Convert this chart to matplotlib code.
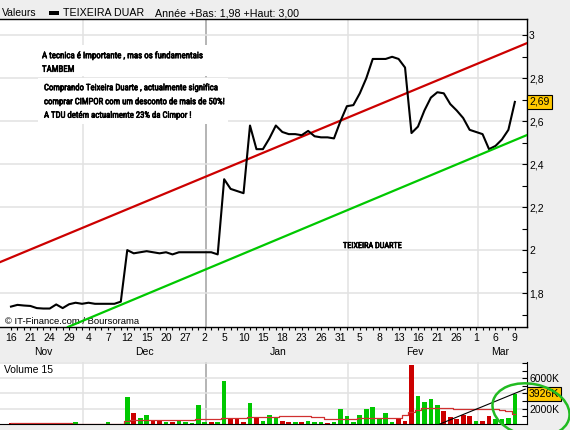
import matplotlib
matplotlib.use("Agg")
import matplotlib.pyplot as plt
from matplotlib.patches import Ellipse, Rectangle
import matplotlib.transforms as mtransforms
import matplotlib.patheffects as pe
from matplotlib import font_manager

plt.rcParams['font.family'] = ['Liberation Sans', 'DejaVu Sans']

# ---------------- data ----------------
price = [1.737, 1.745, 1.742, 1.740, 1.730, 1.728, 1.728, 1.747, 1.730, 1.748,
         1.755, 1.750, 1.755, 1.750, 1.750, 1.750, 1.750, 1.760, 2.000, 1.985,
         1.990, 1.995, 1.990, 1.985, 1.990, 1.980, 1.990, 1.990, 1.990, 1.990,
         1.990, 1.990, 1.980, 2.330, 2.285, 2.275, 2.265, 2.580, 2.470, 2.470,
         2.520, 2.580, 2.550, 2.540, 2.540, 2.535, 2.555, 2.530, 2.525, 2.525,
         2.520, 2.600, 2.670, 2.675, 2.730, 2.800, 2.890, 2.890, 2.890, 2.900,
         2.890, 2.850, 2.545, 2.575, 2.650, 2.710, 2.735, 2.730, 2.680, 2.650,
         2.615, 2.560, 2.550, 2.540, 2.470, 2.485, 2.515, 2.560, 2.690]

volume = [150, 150, 150, 150, 150, 150, 150, 150, 150, 150,
          220, 0, 0, 0, 0, 200, 0, 0, 3550, 1420,
          770, 1130, 550, 330, 200, 240, 330, 200, 110, 2440,
          200, 200, 200, 5640, 820, 600, 240, 2710, 730, 330,
          1130, 730, 330, 240, 200, 200, 330, 200, 200, 80,
          240, 1930, 1000, 240, 1130, 1930, 2200, 680, 1400, 240,
          820, 330, 7770, 3640, 2840, 3240, 2440, 1660, 860, 680,
          1130, 1000, 420, 330, 1000, 680, 600, 770, 3926]

# direction flags (g = green, r = red)
vol_dir = ["r", "g", "r", "g", "r", "g", "g", "g", "r", "g",
           "g", "g", "g", "g", "g", "g", "g", "g", "g", "r",
           "g", "g", "r", "r", "g", "r", "g", "g", "g", "g",
           "g", "r", "g", "g", "r", "r", "r", "g", "r", "g",
           "g", "g", "r", "r", "g", "r", "g", "g", "g", "r",
           "g", "g", "g", "g", "g", "g", "g", "g", "g", "g",
           "r", "r", "r", "g", "g", "g", "g", "r", "r", "r",
           "r", "r", "g", "r", "r", "g", "g", "g", "g"]

vol_ma = ([155] * 10 + [40] * 8 + [330] + [550] * 10 + [690] * 4 + [850] * 3 + [780]
          + [900] * 5 + [1090] * 5 + [900] * 2 + [660] * 5 + [780] * 4 + [830] * 3
          + [1130, 1550, 1900] + [2060] * 3 + [2080] * 2 + [2000] * 4 + [1940] * 3
          + [1900, 1650, 1300])

xtick_labels = ["16", "21", "24", "29", "4", "7", "12", "15", "20", "27", "2", "5", "10",
                "15", "18", "23", "26", "31", "5", "8", "13", "16", "21", "26", "1", "6", "9"]
months = ["Nov", "Dec", "Jan", "Fev", "Mar"]
month_pos = [5.0, 20.7, 41.3, 62.5, 75.7]
month_grid = [11.15, 30.19, 52.17, 72.3]
year_grid = 30.19

red_trend_x = [-1.7, 79.9]
red_trend_y = [1.944, 2.964]
green_trend_x = [8.82, 79.9]
green_trend_y = [1.642, 2.536]
vol_trend_x = [66.4, 79.6]
vol_trend_y = [0, 4570]

last_price_label = "2,69"
last_vol_label = "3926K"
price_yticks = [1.8, 2.0, 2.2, 2.4, 2.6, 2.8, 3.0]
price_ytick_labels = ["1,8", "2", "2,2", "2,4", "2,6", "2,8", "3"]
vol_yticks = [2000, 6000]
vol_ytick_labels = ["2000K", "6000K"]

note1 = ["A tecnica é Importante , mas os fundamentais", "TAMBEM"]
note2 = ["Comprando Teixeira Duarte , actualmente significa",
         "comprar CIMPOR com um desconto de mais de 50%!",
         "A TDU detém actualmente 23% da Cimpor !"]
note3 = "TEIXEIRA DUARTE"

# ---------------- styling ----------------
W, H = 570, 430
BG = "#EEEEEE"
GRID = "#E2E2E2"
GREEN = "#00C800"
RED = "#CC0000"
FS = 7.5

installed = {f.name for f in font_manager.fontManager.ttflist}
narrow = None
for cand in ["Liberation Sans Narrow", "DejaVu Sans Condensed", "Roboto Condensed",
             "Open Sans Condensed", "Liberation Sans"]:
    if cand in installed:
        narrow = cand
        break
NARROW = [narrow, "DejaVu Sans"] if narrow else ["DejaVu Sans"]
BOLDISH = [pe.withStroke(linewidth=0.45, foreground="black")]

fig = plt.figure(figsize=(W / 100, H / 100), dpi=100, facecolor=BG)
renderer = fig.canvas.get_renderer()


def fx(px):
    return px / W


def fy(py):
    return 1 - py / H


def fit_text(t, target_px):
    w = t.get_window_extent(renderer).width
    if w > 0:
        t.set_fontsize(t.get_fontsize() * target_px / w)


n = len(price)
xs = list(range(n))
xlim = (-1.7, 79.88)

# ---------------- main axes ----------------
ax = fig.add_axes([0, fy(327), fx(527), (327 - 19) / H])
ax.set_facecolor("white")
ax.set_xlim(*xlim)
ax.set_ylim(1.642, 3.076)

for g in month_grid:
    ax.axvline(g, color="#A0A0A0" if g == year_grid else GRID, lw=1.1, zorder=0)
for t in price_yticks:
    ax.axhline(t, color=GRID, lw=1.1, zorder=0)

ax.plot(red_trend_x, red_trend_y, color=RED, lw=1.6, zorder=3)
ax.plot(green_trend_x, green_trend_y, color=GREEN, lw=1.6, zorder=6)
ax.plot(xs, price, color="black", lw=1.5, zorder=4)

ax.spines["left"].set_visible(False)
for s in ["top", "right", "bottom"]:
    ax.spines[s].set_color("black")
    ax.spines[s].set_linewidth(1.0)

ax.yaxis.tick_right()
ax.set_yticks(price_yticks)
ax.set_yticklabels(price_ytick_labels, fontsize=FS)
ax.set_yticks([1.7, 1.9, 2.1, 2.3, 2.5, 2.7, 2.9], minor=True)
ax.tick_params(axis="y", which="both", direction="in", length=3.5, width=0.8, pad=1.5)

ax.set_xticks(xs[::3])
ax.set_xticklabels(xtick_labels, fontsize=FS)
ax.set_xticks(xs, minor=True)
ax.tick_params(axis="x", which="both", direction="out", length=2.5, width=0.8, pad=2)

trans = mtransforms.blended_transform_factory(ax.transData, ax.transAxes)
for m, p in zip(months, month_pos):
    ax.text(p, -(352 - 327) / 308, m, transform=trans, ha="center", va="center", fontsize=FS)

ttrans = mtransforms.blended_transform_factory(ax.transAxes, ax.transData)
ax.text(1.004, price[-1], last_price_label, transform=ttrans, ha="left", va="center",
        fontsize=FS, zorder=7, clip_on=False,
        bbox=dict(boxstyle="square,pad=0.2", fc="#FFC800", ec="black", lw=0.8))

# white backgrounds behind the notes
ax.add_patch(Rectangle((38 / 527, (327 - 76) / 308), (210 - 38) / 527, (76 - 45) / 308,
                       transform=ax.transAxes, fc="white", ec="none", zorder=1))
ax.add_patch(Rectangle((38 / 527, (327 - 124) / 308), (228 - 38) / 527, (124 - 78) / 308,
                       transform=ax.transAxes, fc="white", ec="none", zorder=1))


def place_lines(lines, x_px, y_centers, target_px):
    texts = []
    for line, yc in zip(lines, y_centers):
        t = ax.text(x_px / 527, (327 - yc) / 308, line, transform=ax.transAxes,
                    family=NARROW, fontsize=7, fontweight="normal",
                    ha="left", va="center", zorder=5, path_effects=BOLDISH)
        texts.append(t)
    widths = [t.get_window_extent(renderer).width for t in texts]
    scale = target_px / max(widths)
    for t in texts:
        t.set_fontsize(7 * scale)
    return texts


place_lines(note1, 42, [55.7, 69.3], 162)
place_lines(note2, 44, [87.7, 101.7, 115.2], 182)
t3 = ax.text(343 / 527, (327 - 246) / 308, note3, transform=ax.transAxes,
             family=NARROW, fontsize=7, fontweight="normal", ha="left", va="center", zorder=5,
             path_effects=BOLDISH)
fit_text(t3, 59)
tc = ax.text(5 / 527, (327 - 321) / 308, "© IT-Finance.com / Boursorama", transform=ax.transAxes,
             fontsize=FS, ha="left", va="center", zorder=5)
fit_text(tc, 134)

# ---------------- header ----------------
h1 = fig.text(fx(2), fy(13), "Valeurs", fontsize=FS, ha="left", va="center")
fig.patches.append(Rectangle((fx(49), fy(15)), fx(10), 4 / H, transform=fig.transFigure,
                             fc="black", ec="none"))
h2 = fig.text(fx(63), fy(13), "TEIXEIRA DUAR", fontsize=FS, ha="left", va="center")
fit_text(h2, 80)
h3 = fig.text(fx(155), fy(13), "Année +Bas: 1,98 +Haut: 3,00", fontsize=FS, ha="left", va="center")
fit_text(h3, 142)

# ---------------- volume axes ----------------
axv = fig.add_axes([0, fy(424), fx(527), (424 - 362) / H])
axv.set_facecolor("white")
axv.set_xlim(*xlim)
axv.set_ylim(0, 8130)
for g in month_grid:
    axv.axvline(g, color="#A0A0A0" if g == year_grid else GRID, lw=1.1, zorder=0)
for t in [2000, 4000, 6000, 8000]:
    axv.axhline(t, color=GRID, lw=1.1, zorder=0)

colors = [GREEN if d == "g" else RED for d in vol_dir]
axv.bar(xs, volume, width=0.72, color=colors, zorder=2)
axv.plot(xs, vol_ma, color="#D03030", lw=0.9, drawstyle="steps-mid", zorder=3)
axv.plot(vol_trend_x, vol_trend_y, color="black", lw=0.8, zorder=3)

axv.spines["left"].set_visible(False)
axv.spines["top"].set_visible(False)
axv.spines["right"].set_color("black")
axv.spines["bottom"].set_color("black")
axv.set_xticks([])
axv.yaxis.tick_right()
axv.set_yticks(vol_yticks)
axv.set_yticklabels(vol_ytick_labels, fontsize=FS)
axv.set_yticks([1000, 3000, 4000, 5000, 7000, 8000], minor=True)
axv.tick_params(axis="y", which="both", direction="in", length=3.5, width=0.8, pad=1.5)

axv.text(4 / 527, (424 - 370) / 62, "Volume 15", transform=axv.transAxes,
         fontsize=FS, ha="left", va="center")
vtrans = mtransforms.blended_transform_factory(axv.transAxes, axv.transData)
axv.text(1.004, volume[-1], last_vol_label, transform=vtrans, ha="left", va="center",
         fontsize=FS, zorder=6, clip_on=False,
         bbox=dict(boxstyle="square,pad=0.2", fc="#FFC800", ec="black", lw=0.8))

# green hand-drawn ellipse
ell = Ellipse((5.31, (430 - 410) / 100), 0.78, 0.52, angle=-12,
              transform=fig.dpi_scale_trans, fill=False, ec="#22BB22", lw=1.8, clip_on=False)
fig.patches.append(ell)

fig.savefig("out.png", dpi=100, facecolor=BG)
